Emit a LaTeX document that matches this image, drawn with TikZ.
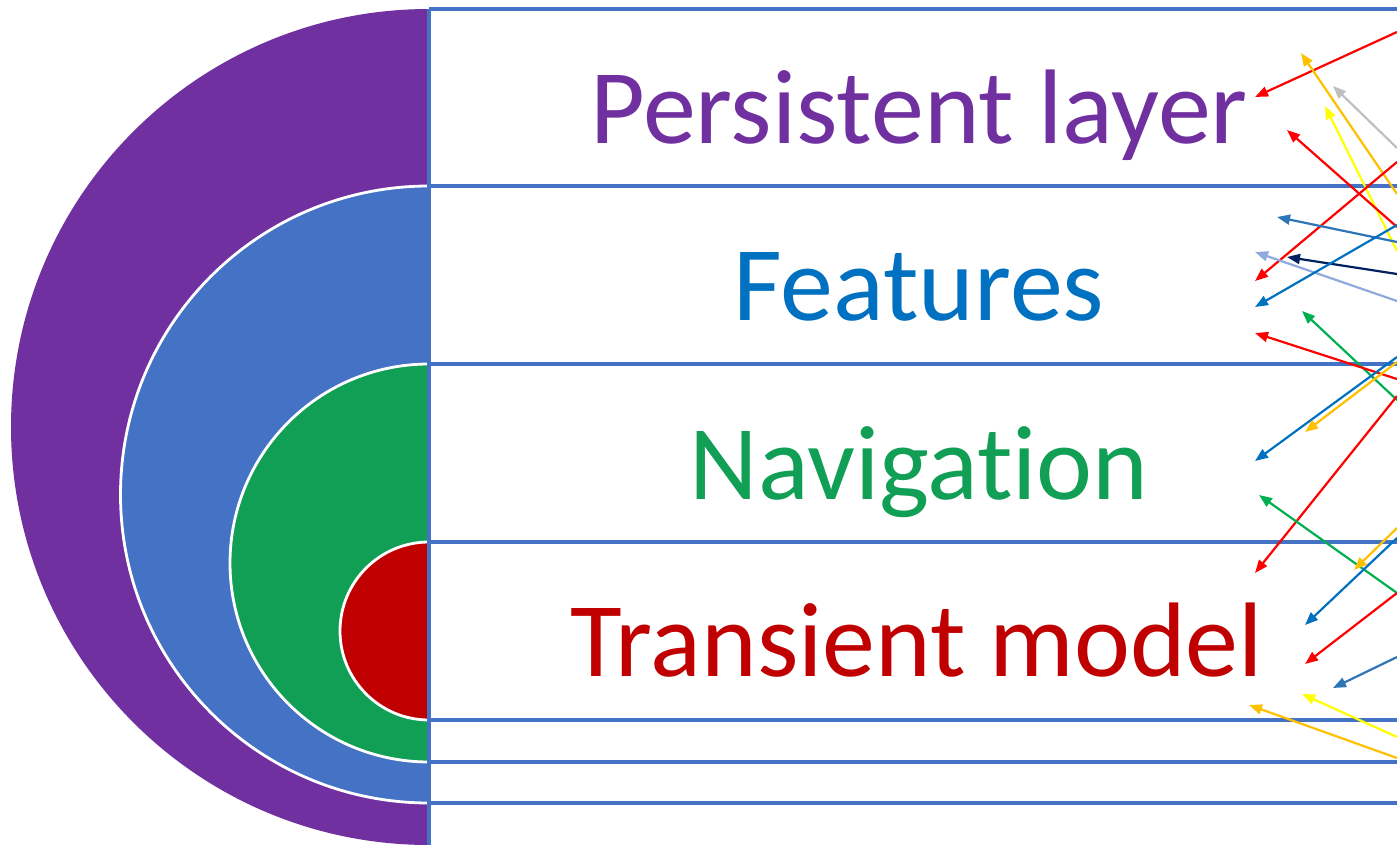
\documentclass[tikz,border=0pt]{standalone}
\usepackage{fontspec}
\setmainfont{Carlito}[RawFeature={-liga}]
\usetikzlibrary{arrows.meta}

\definecolor{layerpurple}{HTML}{7030A0}
\definecolor{layerblue}{HTML}{4472C4}
\definecolor{layergreen}{HTML}{119E55}
\definecolor{layerred}{HTML}{C00000}
\definecolor{featuretext}{HTML}{0070C0}
\definecolor{rulecol}{HTML}{4472C4}
\definecolor{arRed}{HTML}{FF0000}
\definecolor{arOrange}{HTML}{FFC000}
\definecolor{arGray}{HTML}{BFBFBF}
\definecolor{arYellow}{HTML}{FFFF00}
\definecolor{arSteel}{HTML}{2E75B6}
\definecolor{arLight}{HTML}{8FAADC}
\definecolor{arNavy}{HTML}{002060}
\definecolor{arBlue}{HTML}{0070C0}
\definecolor{arGreen}{HTML}{00B050}

\tikzset{
  disc/.style={draw=white, line width=2.8pt},
  rowrule/.style={draw=rulecol, line width=3.2pt},
  layerlabel/.style={anchor=base, inner sep=0pt, font=\fontsize{106}{112}\selectfont},
  link/.style={line width=2.2pt, -{Triangle[length=13pt,width=10pt]}},
}

\begin{document}
\begin{tikzpicture}[x=1pt, y=-1pt]
\useasboundingbox (0,0) rectangle (1397,845);
\fill[white] (0,0) rectangle (1397,845);

% nested half discs, cut at the vertical divider
\begin{scope}
  \clip (0,0) rectangle (429,845);
  \fill[layerpurple] (429,427) circle[radius=418];
  \path[disc, fill=layerblue]  (429,494.5) circle[radius=308.5];
  \path[disc, fill=layergreen] (429,563) circle[radius=199];
  \path[disc, fill=layerred]   (429,631) circle[radius=89];
\end{scope}

% row rules and divider
\coordinate (vtop) at (429,9);
\coordinate (vbot) at (429,848);
\foreach \yy/\nm in {9/r0,186/r1,364/r2,542/r3,720/r4,762/r5,803/r6}{
  \coordinate (\nm l) at (429,\yy);
  \coordinate (\nm r) at (1400,\yy);
  \draw[rowrule] (\nm l) -- (\nm r);
}
\draw[rowrule] (vtop) -- (vbot);

% layer labels
\node[layerlabel, text=layerpurple] (persist) at (919,144) {Persistent layer};
\node[layerlabel, text=featuretext] (feat) at (919,320) {Features};
\node[layerlabel, text=layergreen] (nav) at (919,499) {Navigation};
\node[layerlabel, text=layerred] (trans) at (917,676) {Transient model};

% links entering from the right edge
\foreach \n/\c/\sy/\tx/\ty in {
  1/arRed/32/1255/97,
  2/arOrange/194/1301/53,
  3/arGray/148/1333/86,
  4/arYellow/251/1325/106,
  5/arRed/227/1287/130,
  6/arRed/162/1255/281,
  7/arSteel/242/1277/217,
  8/arLight/301/1255/252,
  9/arNavy/274/1287/257,
  10/arBlue/225/1255/307,
  11/arGreen/400/1302/311,
  12/arRed/379/1255/333,
  13/arBlue/357/1255/461,
  14/arOrange/362/1305/432,
  15/arRed/396/1255/573,
  16/arGreen/593/1259/495,
  17/arOrange/528/1354/570,
  18/arBlue/538/1305/625,
  19/arRed/593/1305/664,
  20/arSteel/657/1333/688,
  21/arYellow/737/1302/694,
  22/arOrange/758/1249/705}{
  \coordinate (s\n) at (1397,\sy);
  \coordinate (t\n) at (\tx,\ty);
  \draw[link, draw=\c, fill=\c] (s\n) -- (t\n);
}
\end{tikzpicture}
\end{document}
